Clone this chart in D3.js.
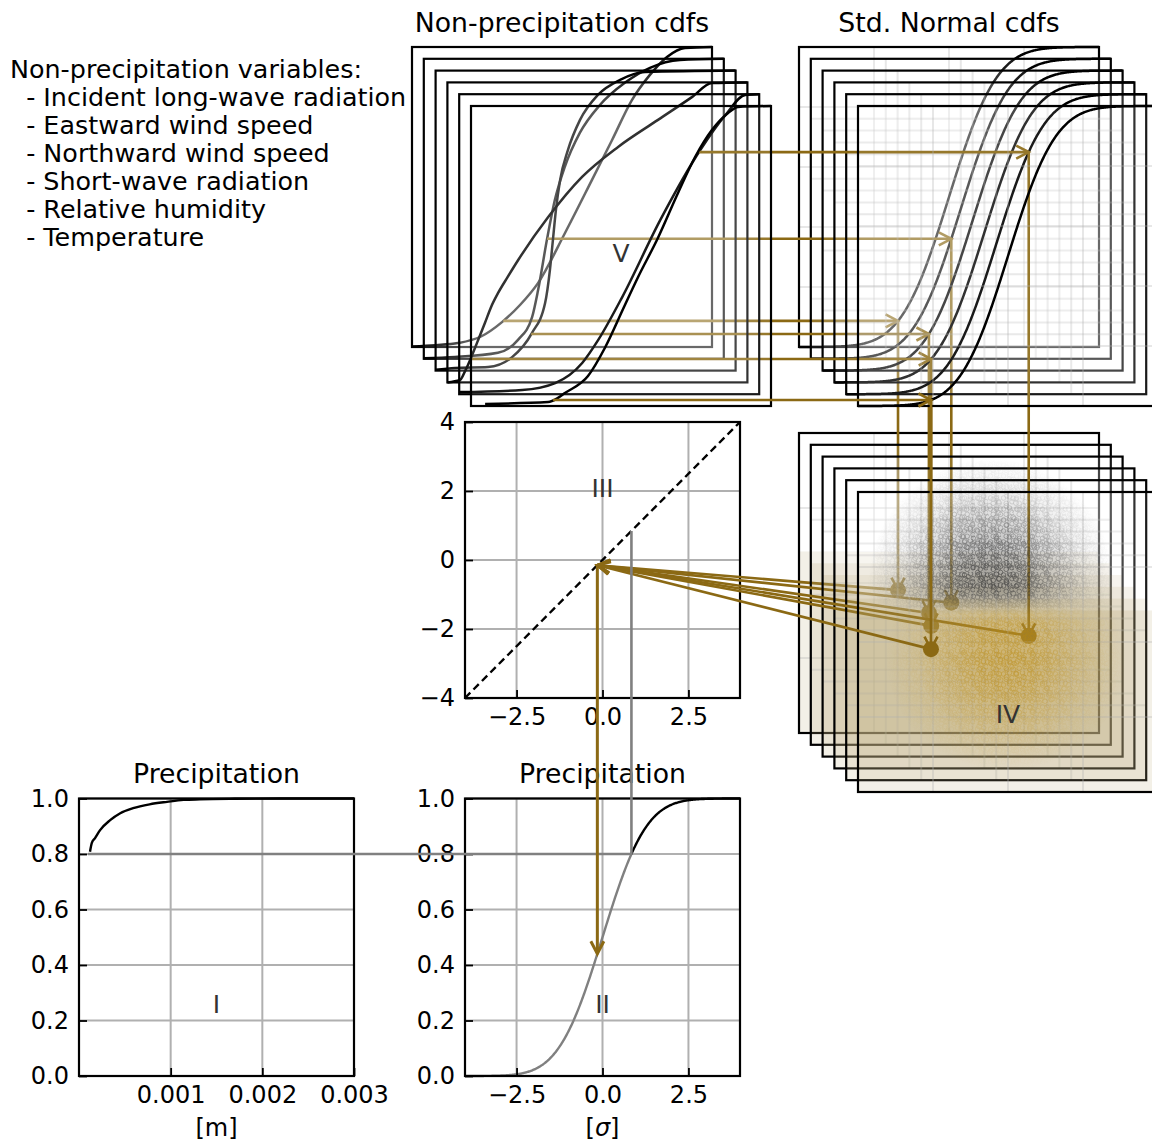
<!DOCTYPE html>
<html>
<head>
<meta charset="utf-8">
<title>Conditional precipitation through a Gaussian copula</title>
<script src="https://cdn.jsdelivr.net/npm/d3@7"></script>
<style>
  html, body { margin: 0; padding: 0; background: #fff; }
  svg { display: block; font-family: "DejaVu Sans", sans-serif; }
</style>
</head>
<body>
<svg id="fig" width="1152" height="1142"></svg>
<script>
// ---------------- data ----------------
const variableNames = [
  "Incident long-wave radiation",
  "Eastward wind speed",
  "Northward wind speed",
  "Short-wave radiation",
  "Relative humidity",
  "Temperature"
];

// empirical cdfs of the non-precipitation variables: [normalised value, cumulative probability]
const cdfLongwave = [[0,0.002],[0.08,0.006],[0.153,0.013],[0.23,0.035],[0.30,0.083],[0.36,0.14],[0.42,0.213],[0.51,0.38],[0.60,0.557],[0.667,0.69],[0.733,0.823],[0.793,0.907],[0.85,0.967],[0.91,0.997],[1,1]];
const cdfEastWind = [[0,0.002],[0.104,0.006],[0.247,0.02],[0.314,0.063],[0.361,0.139],[0.381,0.229],[0.411,0.4],[0.437,0.53],[0.47,0.64],[0.52,0.753],[0.587,0.846],[0.67,0.92],[0.754,0.97],[0.854,0.996],[1,1]];
const cdfNorthWind = [[0,0.003],[0.065,0.009],[0.175,0.012],[0.255,0.045],[0.321,0.125],[0.365,0.225],[0.381,0.335],[0.391,0.435],[0.401,0.535],[0.415,0.635],[0.441,0.735],[0.481,0.835],[0.541,0.919],[0.615,0.969],[0.698,0.995],[1,1]];
const cdfShortwave = [[0,0],[0.042,0.008],[0.06,0.04],[0.08,0.085],[0.1,0.135],[0.125,0.198],[0.145,0.25],[0.17,0.30],[0.2,0.35],[0.236,0.408],[0.336,0.551],[0.449,0.685],[0.569,0.785],[0.702,0.875],[0.815,0.951],[0.882,0.998],[1,1]];
const cdfHumidity = [[0,0.007],[0.21,0.014],[0.32,0.037],[0.41,0.104],[0.463,0.18],[0.543,0.323],[0.67,0.58],[0.803,0.813],[0.887,0.93],[0.953,0.997],[1,1]];
const cdfTemperature = [[0.047,0.007],[0.257,0.013],[0.29,0.027],[0.313,0.043],[0.39,0.1],[0.447,0.195],[0.51,0.33],[0.557,0.43],[0.623,0.56],[0.69,0.71],[0.747,0.83],[0.803,0.92],[0.857,0.977],[0.89,0.997],[1,1]];
const variableCdfs = [cdfLongwave, cdfEastWind, cdfNorthWind, cdfShortwave, cdfHumidity, cdfTemperature];

// cumulative probability of the conditioning sample in each variable
const sampleProb = [0.087, 0.40, 0.122, 0.078, 0.807, 0.02];
// precipitation coordinate [sigma] of the sample in each joint panel
const samplePrecipZ = [-0.19, -0.21, -0.17, -0.20, -0.15, -0.19];
// share of dry time steps and the conditional precipitation estimate [sigma]
const dryFraction = 0.8;
const condPrecipZ = -0.15;

// empirical precipitation cdf: [amount in m, cumulative probability]
const precipCdf = [[0.00012,0.808],[0.00014,0.84],[0.000175,0.857],[0.00023,0.886],[0.00034,0.922],[0.00045,0.947],[0.00059,0.965],[0.00077,0.979],[0.00096,0.988],[0.00114,0.995],[0.00132,0.997],[0.0017,0.999],[0.0022,1.0],[0.003,1.0]];

// tick values
const precipTicks = [0.001, 0.002, 0.003];
const probTicks = [0, 0.2, 0.4, 0.6, 0.8, 1.0];
const sigmaTicks = [-2.5, 0, 2.5];
const sigmaTicksY = [-4, -2, 0, 2, 4];
const normalGridX = [-2, 0, 2];
const normalGridY = [0.2, 0.4, 0.6, 0.8];
const jointGrid = [-2, 0, 2];

// sample clouds of the joint panels (front axes): centre x, centre y, half-extent x, half-extent y [sigma]
const wetCloud = [-0.45, 1.5, 3.3, 3.4];
const dryCloud = [-0.05, -0.45, 3.2, 3.0];

// ---------------- helpers ----------------
const GOLD = "#8b6914";
const GREY = "#808080";
const FONT = '"DejaVu Sans", sans-serif';
const SIZE = 300;          // stacked axes size
const STEP = 11.8;         // offset between stacked axes
const VEIL = 0.1;          // white face alpha of stacked axes
const TAN = 0.1;           // alpha of the dry band
const TICK_FS = 24;

function Phi(x) {
  const z = Math.abs(x) / Math.SQRT2;
  const t = 1 / (1 + 0.3275911 * z);
  const e = 1 - (((((1.061405429 * t - 1.453152027) * t) + 1.421413741) * t - 0.284496736) * t + 0.254829592) * t * Math.exp(-z * z);
  return x >= 0 ? 0.5 * (1 + e) : 0.5 * (1 - e);
}
function PhiInv(p) {
  let lo = -8, hi = 8;
  for (let i = 0; i < 80; i++) { const m = (lo + hi) / 2; if (Phi(m) < p) lo = m; else hi = m; }
  return (lo + hi) / 2;
}
function valueAtProb(curve, u) {
  for (let i = 0; i < curve.length - 1; i++) {
    const [x0, p0] = curve[i], [x1, p1] = curve[i + 1];
    if (p0 <= u && p1 >= u) return p1 === p0 ? x0 : x0 + (u - p0) / (p1 - p0) * (x1 - x0);
  }
  return curve[curve.length - 1][0];
}
const threshold = PhiInv(dryFraction);

const svg = d3.select("#fig");
const defs = svg.append("defs");

function arrowHead(g, x1, y1, x2, y2, color, w) {
  const a = Math.atan2(y2 - y1, x2 - x1), L = 12.5, H = 6.5;
  const bx = x2 - L * Math.cos(a), by = y2 - L * Math.sin(a);
  const px = -Math.sin(a) * H, py = Math.cos(a) * H;
  g.append("path")
    .attr("d", `M${bx + px},${by + py}L${x2},${y2}L${bx - px},${by - py}`)
    .attr("fill", "none").attr("stroke", color).attr("stroke-width", w)
    .attr("stroke-linejoin", "miter");
}
function arrow(g, x1, y1, x2, y2, color, w) {
  g.append("line").attr("x1", x1).attr("y1", y1).attr("x2", x2).attr("y2", y2)
    .attr("stroke", color).attr("stroke-width", w);
  arrowHead(g, x1, y1, x2, y2, color, w);
}
function styleAxis(a) {
  a.attr("font-size", TICK_FS).attr("font-family", FONT);
  a.select(".domain").remove();
  a.selectAll("line").attr("stroke", "#000").attr("stroke-width", 1.8);
  a.selectAll("text").attr("fill", "#000");
}

// plain axes with grid, inward ticks and labels
function plainAxes(xs, ys, xt, yt, fx, fy) {
  const g = svg.append("g");
  const [xl, xr] = xs.range(), [yb, yt0] = ys.range();
  g.selectAll(null).data(xt).join("line")
    .attr("x1", d => xs(d)).attr("x2", d => xs(d)).attr("y1", yb).attr("y2", yt0)
    .attr("stroke", "#b0b0b0").attr("stroke-width", 2);
  g.selectAll(null).data(yt).join("line")
    .attr("y1", d => ys(d)).attr("y2", d => ys(d)).attr("x1", xl).attr("x2", xr)
    .attr("stroke", "#b0b0b0").attr("stroke-width", 2);
  const axesG = svg.append("g");
  axesG.append("g").attr("transform", `translate(0,${yb})`)
    .call(d3.axisBottom(xs).tickValues(xt).tickFormat(fx).tickSize(-8).tickPadding(10))
    .call(styleAxis);
  axesG.append("g").attr("transform", `translate(${xl},0)`)
    .call(d3.axisLeft(ys).tickValues(yt).tickFormat(fy).tickSize(-8).tickPadding(10))
    .call(styleAxis);
  axesG.append("rect").attr("x", xl).attr("y", yt0).attr("width", xr - xl).attr("height", yb - yt0)
    .attr("fill", "none").attr("stroke", "#000").attr("stroke-width", 2.2);
  return { g, axesG };
}
function roman(x, y, s) {
  svg.append("text").attr("x", x).attr("y", y).attr("text-anchor", "middle")
    .attr("font-size", 25).attr("fill", "#333").text(s);
}
function title(x, y, s) {
  svg.append("text").attr("x", x).attr("y", y).attr("text-anchor", "middle")
    .attr("font-size", 26.7).attr("fill", "#000").text(s);
}

// ---------------- left text ----------------
const info = svg.append("text").attr("x", 10).attr("y", 78).attr("font-size", 25.4)
  .attr("fill", "#000").style("white-space", "pre");
["Non-precipitation variables:"].concat(variableNames.map(v => "  - " + v)).forEach((s, i) => {
  info.append("tspan").attr("x", 10).attr("dy", i === 0 ? 0 : 28).text(s);
});

title(562, 32, "Non-precipitation cdfs");
title(949, 32, "Std. Normal cdfs");

// ---------------- panel I: precipitation cdf ----------------
const xI = d3.scaleLinear([0, 0.003], [79, 354]);
const yI = d3.scaleLinear([0, 1], [1076, 798.5]);
const pI = plainAxes(xI, yI, precipTicks, probTicks, d3.format(".3f"), d3.format(".1f"));
pI.g.append("path").datum(precipCdf)
  .attr("d", d3.line().curve(d3.curveMonotoneX).x(d => xI(d[0])).y(d => yI(d[1])))
  .attr("fill", "none").attr("stroke", "#000").attr("stroke-width", 2.4);
title(216.5, 783, "Precipitation");
svg.append("text").attr("x", 216.5).attr("y", 1136).attr("text-anchor", "middle")
  .attr("font-size", TICK_FS).text("[m]");

// ---------------- panel II: precipitation in std normal space ----------------
const xII = d3.scaleLinear([-4, 4], [465, 740]);
const yII = d3.scaleLinear([0, 1], [1076, 798.5]);
const pII = plainAxes(xII, yII, sigmaTicks, probTicks, d3.format(".1f"), d3.format(".1f"));
const zGrid = d3.range(-4, 4.0001, 0.02);
const lineII = d3.line().x(d => xII(d)).y(d => yII(Phi(d)));
pII.g.append("path").datum(zGrid.filter(d => d <= threshold).concat([threshold]))
  .attr("d", lineII).attr("fill", "none").attr("stroke", GREY).attr("stroke-width", 2.4);
pII.g.append("path").datum([threshold].concat(zGrid.filter(d => d > threshold)))
  .attr("d", lineII).attr("fill", "none").attr("stroke", "#000").attr("stroke-width", 2.4);
title(602.5, 783, "Precipitation");
const sigLab = svg.append("text").attr("x", 602.5).attr("y", 1136).attr("text-anchor", "middle")
  .attr("font-size", TICK_FS);
sigLab.append("tspan").text("[");
sigLab.append("tspan").attr("font-style", "italic").text("σ");
sigLab.append("tspan").text("]");

// ---------------- panel III: precipitation vs precipitation ----------------
const xIII = d3.scaleLinear([-4, 4], [465, 740]);
const yIII = d3.scaleLinear([-4, 4], [698, 422]);
const pIII = plainAxes(xIII, yIII, sigmaTicks, sigmaTicksY, d3.format(".1f"), d3.format("d"));
pIII.g.append("line").attr("x1", xIII(-4)).attr("y1", yIII(-4)).attr("x2", xIII(4)).attr("y2", yIII(4))
  .attr("stroke", "#000").attr("stroke-width", 2.4).attr("stroke-dasharray", "7.5,4.5");

// ---------------- patterns and gradients for the sample clouds ----------------
function speckPattern(id, w, h, pts, color, r) {
  const p = defs.append("pattern").attr("id", id).attr("patternUnits", "userSpaceOnUse")
    .attr("width", w).attr("height", h);
  pts.forEach(([cx, cy]) => p.append("circle").attr("cx", cx).attr("cy", cy).attr("r", r)
    .attr("fill", "none").attr("stroke", color).attr("stroke-width", 0.7));
}
const speckA = [[2.5, 3], [8.5, 1.8], [5.2, 8.3], [11, 6.7]];
const speckB = [[3.5, 12], [10.2, 4.4], [14.6, 15.1], [7.7, 17.3], [13, 9]];
const speckC = [[4.1, 6.2], [17.8, 2.9], [11.6, 21.4], [20.3, 14.8], [2.2, 25.6], [14.9, 27.1], [7.4, 16.3], [21.5, 23.9]];
speckPattern("wetA", 13, 11, speckA, "#2e2e2e", 2.3);
speckPattern("wetB", 17, 19, speckB, "#2e2e2e", 2.5);
speckPattern("wetC", 23, 29, speckC, "#2e2e2e", 2.2);
speckPattern("dryA", 13, 11, speckA, "#b8860b", 2.3);
speckPattern("dryB", 17, 19, speckB, "#b8860b", 2.5);
speckPattern("dryC", 23, 29, speckC, "#b8860b", 2.2);

function radial(id, color, peak) {
  const gr = defs.append("radialGradient").attr("id", id);
  [[0, 1], [0.25, 0.85], [0.5, 0.5], [0.75, 0.18], [1, 0]].forEach(([o, a]) =>
    gr.append("stop").attr("offset", o).attr("stop-color", color).attr("stop-opacity", a * peak));
}
radial("hazeWet", "#3a3a3a", 0.4);
radial("hazeDry", "#c8961e", 0.36);
radial("lumRad", "#ffffff", 1);

function fadeMask(id, yA, yB, up) {
  const lg = defs.append("linearGradient").attr("id", id + "G").attr("gradientUnits", "userSpaceOnUse")
    .attr("x1", 0).attr("x2", 0).attr("y1", yA).attr("y2", yB);
  lg.append("stop").attr("offset", 0).attr("stop-color", up ? "#fff" : "#000");
  lg.append("stop").attr("offset", 1).attr("stop-color", up ? "#000" : "#fff");
  defs.append("mask").attr("id", id).attr("maskUnits", "userSpaceOnUse")
    .attr("x", 0).attr("y", 0).attr("width", 1152).attr("height", 1142)
    .append("rect").attr("width", 1152).attr("height", 1142).attr("fill", `url(#${id}G)`);
}

function drawCloud(L, xs, ys, c, hazeId, pats, maskId, speckOpacity) {
  const cx = xs(c[0]), cy = ys(c[1]);
  const rx = Math.abs(xs(c[2]) - xs(0)), ry = Math.abs(ys(c[3]) - ys(0));
  const radMask = defs.append("mask").attr("id", maskId + "R").attr("maskUnits", "userSpaceOnUse")
    .attr("x", 0).attr("y", 0).attr("width", 1152).attr("height", 1142);
  radMask.append("ellipse").attr("cx", cx).attr("cy", cy).attr("rx", rx).attr("ry", ry)
    .attr("fill", "url(#lumRad)");
  const g = L.append("g").attr("mask", `url(#${maskId})`);
  g.append("ellipse").attr("cx", cx).attr("cy", cy).attr("rx", rx).attr("ry", ry)
    .attr("fill", `url(#${hazeId})`);
  const sp = g.append("g").attr("mask", `url(#${maskId}R)`).attr("opacity", speckOpacity);
  pats.forEach(p => sp.append("rect").attr("x", cx - rx).attr("y", cy - ry)
    .attr("width", 2 * rx).attr("height", 2 * ry).attr("fill", `url(#${p})`));
}

// ---------------- stacked axes: one layer per variable ----------------
const convX = xIII(condPrecipZ), convY = yIII(condPrecipZ);

for (let k = 0; k < 6; k++) {
  const L = svg.append("g");
  const o = STEP * k;

  // non-precipitation cdf axes
  const vx = d3.scaleLinear([0, 1], [412 + o, 412 + SIZE + o]);
  const vy = d3.scaleLinear([0, 1], [47 + SIZE + o, 47 + o]);
  L.append("rect").attr("x", 412 + o).attr("y", 47 + o).attr("width", SIZE).attr("height", SIZE)
    .attr("fill", "#fff").attr("fill-opacity", VEIL);
  L.append("path").datum(variableCdfs[k])
    .attr("d", d3.line().curve(d3.curveMonotoneX).x(d => vx(d[0])).y(d => vy(d[1])))
    .attr("fill", "none").attr("stroke", "#000").attr("stroke-width", 2.5).attr("stroke-linejoin", "round");
  L.append("rect").attr("x", 412 + o).attr("y", 47 + o).attr("width", SIZE).attr("height", SIZE)
    .attr("fill", "none").attr("stroke", "#000").attr("stroke-width", 2.2);

  // std normal cdf axes
  const nx = d3.scaleLinear([-4, 4], [799 + o, 799 + SIZE + o]);
  const ny = vy;
  L.append("rect").attr("x", 799 + o).attr("y", 47 + o).attr("width", SIZE).attr("height", SIZE)
    .attr("fill", "#fff").attr("fill-opacity", VEIL);
  L.selectAll(null).data(normalGridX).join("line")
    .attr("x1", d => nx(d)).attr("x2", d => nx(d)).attr("y1", ny(0)).attr("y2", ny(1))
    .attr("stroke", "#b0b0b0").attr("stroke-opacity", 0.3).attr("stroke-width", 2);
  L.selectAll(null).data(normalGridY).join("line")
    .attr("y1", d => ny(d)).attr("y2", d => ny(d)).attr("x1", nx(-4)).attr("x2", nx(4))
    .attr("stroke", "#b0b0b0").attr("stroke-opacity", 0.3).attr("stroke-width", 2);
  L.append("path").datum(zGrid)
    .attr("d", d3.line().x(d => nx(d)).y(d => ny(Phi(d))))
    .attr("fill", "none").attr("stroke", "#000").attr("stroke-width", 2.5);
  L.append("rect").attr("x", 799 + o).attr("y", 47 + o).attr("width", SIZE).attr("height", SIZE)
    .attr("fill", "none").attr("stroke", "#000").attr("stroke-width", 2.2);

  // joint (variable, precipitation) axes
  const jy = d3.scaleLinear([-4, 4], [433 + SIZE + o, 433 + o]);
  L.append("rect").attr("x", 799 + o).attr("y", 433 + o).attr("width", SIZE).attr("height", SIZE)
    .attr("fill", "#fff").attr("fill-opacity", VEIL);
  L.append("rect").attr("x", 799 + o).attr("y", jy(threshold)).attr("width", SIZE)
    .attr("height", jy(-4) - jy(threshold)).attr("fill", GOLD).attr("fill-opacity", TAN);
  L.selectAll(null).data(jointGrid).join("line")
    .attr("x1", d => nx(d)).attr("x2", d => nx(d)).attr("y1", jy(-4)).attr("y2", jy(4))
    .attr("stroke", "#b0b0b0").attr("stroke-opacity", 0.3).attr("stroke-width", 2);
  L.selectAll(null).data(jointGrid).join("line")
    .attr("y1", d => jy(d)).attr("y2", d => jy(d)).attr("x1", nx(-4)).attr("x2", nx(4))
    .attr("stroke", "#b0b0b0").attr("stroke-opacity", 0.3).attr("stroke-width", 2);
  if (k === 5) {
    const yT = jy(threshold);
    fadeMask("fadeWet", yT - 20, yT + 4, true);
    fadeMask("fadeDry", yT - 12, yT + 12, false);
    drawCloud(L, nx, jy, wetCloud, "hazeWet", ["wetA", "wetB", "wetC"], "fadeWet", 0.75);
    drawCloud(L, nx, jy, dryCloud, "hazeDry", ["dryA", "dryB", "dryC"], "fadeDry", 0.6);
  }
  L.append("rect").attr("x", 799 + o).attr("y", 433 + o).attr("width", SIZE).attr("height", SIZE)
    .attr("fill", "none").attr("stroke", "#000").attr("stroke-width", 2.2);

  // path of the conditioning sample through this variable
  const u = sampleProb[k];
  const z = PhiInv(u);
  const xa = vx(valueAtProb(variableCdfs[k], u)), ya = vy(u);
  const xb = nx(z);
  const yc = jy(samplePrecipZ[k]);
  arrow(L, xa, ya, xb, ya, GOLD, 2.6);
  arrow(L, xb, ya, xb, yc, GOLD, 2.6);
  arrow(L, xb, yc, convX, convY, GOLD, 2.6);
  L.append("circle").attr("cx", xb).attr("cy", yc).attr("r", 8).attr("fill", GOLD);
}

// ---------------- links between the precipitation panels ----------------
const links = svg.append("g");
links.append("line")
  .attr("x1", xI(precipCdf[0][0]) - 2).attr("y1", yI(dryFraction))
  .attr("x2", xII(threshold)).attr("y2", yII(dryFraction))
  .attr("stroke", GREY).attr("stroke-width", 2.6);
links.append("line")
  .attr("x1", xII(threshold)).attr("y1", yII(dryFraction))
  .attr("x2", xIII(threshold)).attr("y2", yIII(threshold))
  .attr("stroke", GREY).attr("stroke-width", 2.6);
arrow(links, convX, convY, xII(condPrecipZ), yII(Phi(condPrecipZ)), GOLD, 3);

// ---------------- panel labels ----------------
roman(xI(0.0015), yI(0.227), "I");
roman(xII(0), yII(0.227), "II");
roman(xIII(0), yIII(1.83), "III");
roman(799 + STEP * 5 + 150, 723, "IV");
roman(412 + STEP * 5 + 150, 262, "V");
</script>
</body>
</html>
